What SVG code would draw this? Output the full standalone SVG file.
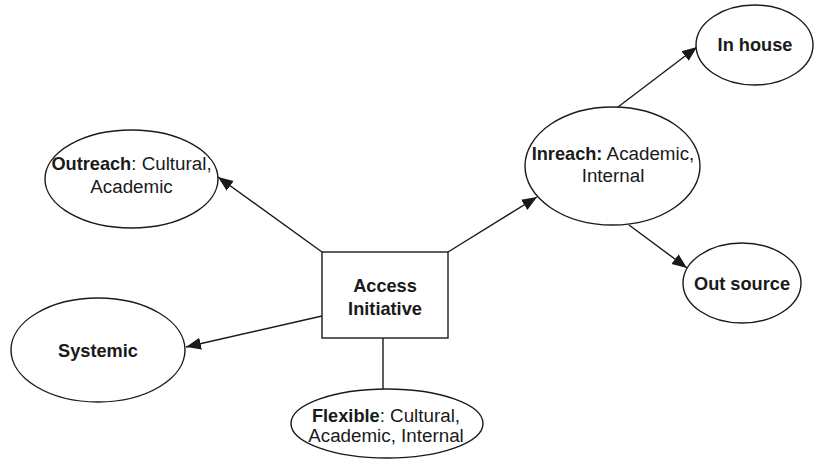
<svg xmlns="http://www.w3.org/2000/svg" width="814" height="464" viewBox="0 0 814 464">
  <style>
    .shape { fill: #fff; stroke: #1a1a1a; stroke-width: 1.4; }
    .edge { fill: none; stroke: #1a1a1a; stroke-width: 1.4; }
    text { font-family: "Liberation Sans", Arial, sans-serif; font-size: 18.8px; fill: #1a1a1a; text-anchor: middle; }
    .b { font-weight: bold; font-size: 18.2px; }
  </style>
  <defs>
    <marker id="arrow" markerUnits="userSpaceOnUse" markerWidth="16" markerHeight="14" refX="15" refY="7" orient="auto">
      <path d="M0,1 L15,7 L0,13 Z" fill="#1a1a1a"/>
    </marker>
  </defs>
  <rect width="814" height="464" fill="#fff"/>

  <g id="connectors">
    <line class="edge" x1="322" y1="252" x2="218" y2="177" marker-end="url(#arrow)"/>
    <line class="edge" x1="448" y1="252" x2="537" y2="197" marker-end="url(#arrow)"/>
    <line class="edge" x1="322" y1="316" x2="186" y2="347" marker-end="url(#arrow)"/>
    <line class="edge" x1="383" y1="338" x2="383" y2="389"/>
    <line class="edge" x1="618" y1="107" x2="697" y2="47" marker-end="url(#arrow)"/>
    <line class="edge" x1="629" y1="225" x2="687" y2="268" marker-end="url(#arrow)"/>
  </g>

  <g id="access-initiative">
    <rect class="shape" x="322" y="252" width="126" height="86"/>
    <text class="b" x="385" y="292">Access</text>
    <text class="b" x="385" y="315">Initiative</text>
  </g>

  <g id="outreach">
    <ellipse class="shape" cx="131.5" cy="179" rx="86.5" ry="49"/>
    <text x="131.5" y="170"><tspan class="b">Outreach</tspan>: Cultural,</text>
    <text x="131.5" y="193">Academic</text>
  </g>

  <g id="systemic">
    <ellipse class="shape" cx="98" cy="350" rx="87" ry="52"/>
    <text class="b" x="98" y="357">Systemic</text>
  </g>

  <g id="flexible">
    <ellipse class="shape" cx="387" cy="423.5" rx="96" ry="34.5"/>
    <text x="386" y="422"><tspan class="b">Flexible</tspan>: Cultural,</text>
    <text x="386" y="442">Academic, Internal</text>
  </g>

  <g id="inreach">
    <ellipse class="shape" cx="612.5" cy="166" rx="87.5" ry="59"/>
    <text x="613" y="160"><tspan class="b">Inreach:</tspan> Academic,</text>
    <text x="613" y="182">Internal</text>
  </g>

  <g id="in-house">
    <ellipse class="shape" cx="754.5" cy="45" rx="58.5" ry="40"/>
    <text class="b" x="755" y="51">In house</text>
  </g>

  <g id="out-source">
    <ellipse class="shape" cx="742" cy="283" rx="59" ry="40"/>
    <text class="b" x="742" y="290">Out source</text>
  </g>
</svg>
